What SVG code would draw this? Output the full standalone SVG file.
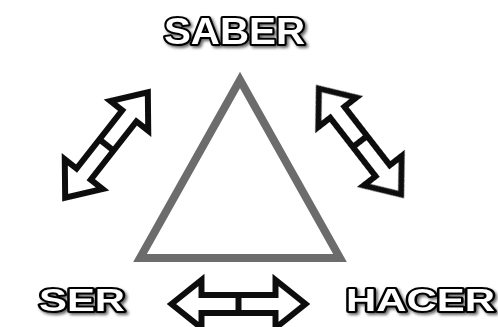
<svg xmlns="http://www.w3.org/2000/svg" width="498" height="327" viewBox="0 0 498 327">
<defs>
<filter id="sh" x="-20%" y="-30%" width="140%" height="160%">
<feDropShadow dx="2" dy="2" stdDeviation="1.5" flood-color="#000" flood-opacity="0.6"/>
</filter>
<filter id="soft" x="-10%" y="-10%" width="120%" height="120%">
<feGaussianBlur stdDeviation="0.7"/>
</filter>
<g id="darr">
<path d="M-67,0 L-37,-24 L-37,-9 L37,-9 L37,-24 L67,0 L37,24 L37,9 L-37,9 L-37,24 Z"/>
<line x1="0" y1="-9" x2="0" y2="9"/>
</g>
</defs>
<style>
.lbl{font-family:"Liberation Sans",Arial,sans-serif;font-weight:bold;fill:#fff;stroke:#000;stroke-width:4;paint-order:stroke;stroke-linejoin:round;filter:url(#sh)}
.arr{fill:#fff;stroke:#111;stroke-width:6;stroke-linejoin:miter;filter:url(#soft)}
</style>
<rect width="498" height="327" fill="#fff"/>
<g id="triangle">
<polygon points="240,80 140,258 340,258" fill="#fff" stroke="#6c6c6c" stroke-width="8" filter="url(#soft)"/>
</g>
<g id="connectors" class="arr">
<use href="#darr" transform="translate(106.5,145) rotate(-51.9)"/>
<use href="#darr" transform="translate(360,141.5) rotate(52.2)"/>
<use href="#darr" transform="translate(238.5,304)"/>
</g>
<g id="saber"><text class="lbl" x="164" y="44" font-size="37" textLength="141" lengthAdjust="spacingAndGlyphs">SABER</text></g>
<g id="ser"><text class="lbl" x="39" y="311" font-size="32" textLength="86" lengthAdjust="spacingAndGlyphs">SER</text></g>
<g id="hacer"><text class="lbl" x="346" y="311" font-size="32" textLength="149" lengthAdjust="spacingAndGlyphs">HACER</text></g>
</svg>
